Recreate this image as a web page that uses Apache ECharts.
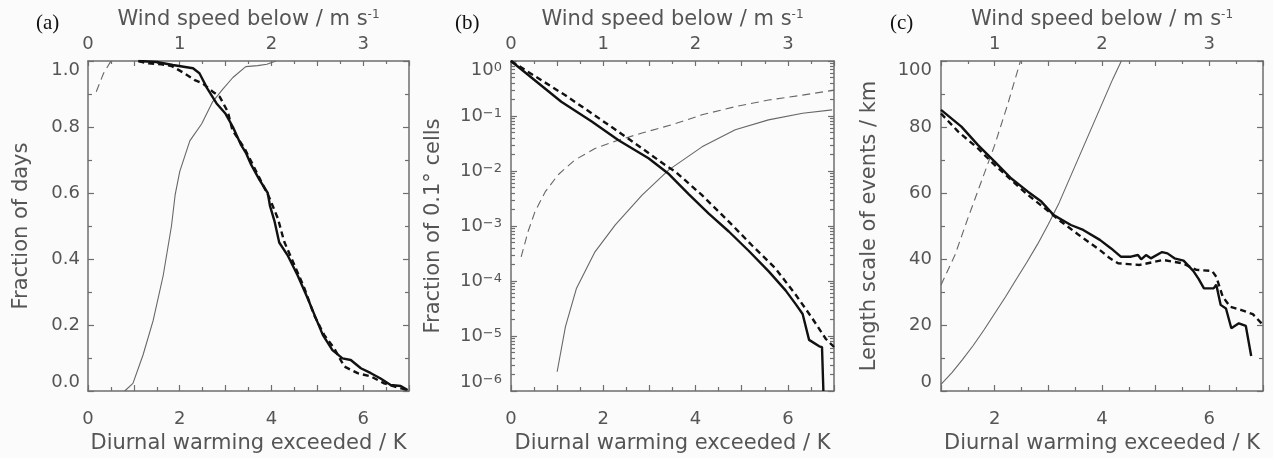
<!DOCTYPE html>
<html>
<head>
<meta charset="utf-8">
<script src="https://cdn.jsdelivr.net/npm/echarts@6/dist/echarts.min.js"></script>
<style>
html,body{margin:0;padding:0;background:#fbfbfb;}
#chart{width:1273px;height:458px;}
</style>
</head>
<body>
<div id="chart"></div>
<script>
// ---------------- Data ----------------
// Panel (a): fraction of days
const aBlackSolidK = [1.10, 1.50, 1.85, 2.29, 2.43, 2.60, 2.80, 3.00, 3.16, 3.34, 3.45, 3.56, 3.74, 3.92, 3.97, 4.07, 4.17, 4.35, 4.57, 4.79, 4.97, 5.12, 5.33, 5.55, 5.73, 5.95, 6.17, 6.38, 6.60, 6.82, 6.97];
const aBlackSolid  = [1.000, 0.997, 0.988, 0.978, 0.963, 0.917, 0.872, 0.840, 0.800, 0.745, 0.720, 0.685, 0.640, 0.600, 0.560, 0.513, 0.450, 0.412, 0.351, 0.281, 0.220, 0.170, 0.124, 0.099, 0.094, 0.069, 0.054, 0.038, 0.018, 0.015, 0.003];
const aBlackDashK  = [1.10, 1.30, 1.60, 1.82, 2.10, 2.33, 2.50, 2.72, 2.87, 3.05, 3.15, 3.41, 3.56, 3.74, 3.96, 4.14, 4.28, 4.50, 4.72, 4.93, 5.15, 5.37, 5.59, 5.88, 6.17, 6.46, 6.75, 6.97];
const aBlackDash   = [1.000, 0.993, 0.990, 0.985, 0.963, 0.942, 0.932, 0.907, 0.892, 0.846, 0.790, 0.736, 0.695, 0.645, 0.584, 0.523, 0.452, 0.382, 0.311, 0.230, 0.170, 0.129, 0.074, 0.054, 0.044, 0.023, 0.011, 0.003];
const aGrayW       = [0.40, 0.49, 0.60, 0.71, 0.82, 0.91, 0.95, 1.00, 1.11, 1.24, 1.36, 1.47, 1.58, 1.72, 1.85, 1.95, 2.05];
const aGray        = [0.000, 0.023, 0.109, 0.213, 0.350, 0.500, 0.594, 0.665, 0.758, 0.810, 0.877, 0.915, 0.950, 0.983, 0.986, 0.990, 1.000];
const aGrayDashW   = [0.09, 0.17, 0.25];
const aGrayDash    = [0.907, 0.963, 1.000];

// Panel (b): fraction of 0.1 degree cells (log scale)
const bBlackSolidK = [0, 1.09, 1.75, 2.33, 2.98, 3.40, 3.85, 4.28, 4.72, 5.15, 5.59, 5.95, 6.17, 6.32, 6.46, 6.68, 6.74, 6.77];
const bBlackSolid  = [1, 0.182, 0.0794, 0.0363, 0.0170, 0.00912, 0.00380, 0.00170, 7.94e-4, 3.55e-4, 1.48e-4, 6.76e-5, 3.80e-5, 2.51e-5, 8.5e-6, 6.5e-6, 6.3e-6, 1e-6];
const bBlackDashK  = [0, 0.30, 1.17, 1.75, 2.54, 3.34, 3.56, 4.14, 4.65, 5.22, 5.73, 6.17, 6.53, 6.82, 7.00];
const bBlackDash   = [1, 0.692, 0.240, 0.112, 0.0389, 0.0129, 0.00977, 0.00363, 0.00138, 4.47e-4, 1.70e-4, 5.62e-5, 2.09e-5, 8.91e-6, 6.31e-6];
const bGrayDashW   = [0.11, 0.185, 0.26, 0.37, 0.51, 0.69, 0.91, 1.16, 1.42, 1.74, 2.07, 2.43, 2.79, 3.16, 3.50];
const bGrayDash    = [2.75e-4, 7.94e-4, 1.82e-3, 4.17e-3, 8.51e-3, 0.0158, 0.0257, 0.0363, 0.0490, 0.0692, 0.105, 0.148, 0.195, 0.240, 0.295];
const bGrayW       = [0.50, 0.59, 0.71, 0.91, 1.13, 1.42, 1.71, 2.07, 2.43, 2.79, 3.16, 3.48];
const bGray        = [2.24e-6, 1.48e-5, 7.41e-5, 3.39e-4, 1.05e-3, 3.63e-3, 0.0105, 0.0275, 0.0562, 0.0851, 0.112, 0.129];

// Panel (c): length scale of events / km
const cBlackSolidK = [1.00, 1.38, 1.69, 2.00, 2.31, 2.62, 2.87, 3.10, 3.42, 3.65, 3.96, 4.17, 4.35, 4.54, 4.67, 4.73, 4.82, 4.91, 5.12, 5.22, 5.35, 5.52, 5.70, 5.80, 5.90, 6.08, 6.13, 6.21, 6.31, 6.41, 6.55, 6.68, 6.78];
const cBlackSolid  = [85.2, 80.1, 74.5, 69.5, 64.4, 60.4, 57.4, 53.3, 50.3, 48.8, 45.8, 43.2, 40.7, 40.7, 41.2, 39.9, 41.2, 40.2, 42.1, 41.7, 40.2, 39.5, 36.4, 34.0, 31.1, 31.1, 32.2, 26.1, 25.0, 19.0, 20.5, 19.7, 10.6];
const cBlackDashK  = [1.00, 1.32, 1.69, 2.00, 2.31, 2.62, 2.93, 3.24, 3.55, 3.96, 4.15, 4.30, 4.70, 5.14, 5.50, 5.76, 6.05, 6.13, 6.25, 6.39, 6.60, 6.81, 7.00];
const cBlackDash   = [84.1, 78.6, 73.5, 68.5, 63.9, 59.4, 55.4, 51.3, 47.5, 42.7, 40.2, 38.7, 38.2, 39.7, 38.7, 36.7, 36.4, 34.6, 28.6, 25.5, 24.5, 23.3, 20.0];
const cGrayW       = [0.50, 0.60, 0.70, 0.80, 0.90, 1.00, 1.10, 1.20, 1.30, 1.40, 1.50, 1.60, 1.70, 1.80, 1.90, 2.00, 2.10, 2.18];
const cGray        = [2.0, 5.5, 9.5, 13.8, 18.5, 23.5, 28.5, 33.8, 39.0, 44.5, 50.5, 57.0, 64.5, 72.0, 79.5, 87.0, 94.5, 100];
const cGrayDashW   = [0.50, 0.63, 0.75, 0.875, 1.00, 1.12, 1.24];
const cGrayDash    = [32.1, 41.2, 52.3, 63.4, 74.5, 86.7, 100];

// Text
const panelLabels = ['(a)', '(b)', '(c)'];
const xTitle = 'Diurnal warming exceeded / K';
const topTitle = 'Wind speed below / m s{sup|-1}';
const yTitles = ['Fraction of days', 'Fraction of 0.1\u00b0 cells', 'Length scale of events / km'];

// ---------------- Styling ----------------
const FONT = 'DejaVu Sans';
const TXT = '#555555';
const FRAME = '#6e6e6e';
const BLACK = '#111111';
const GRAY = '#676767';

function pairs(xs, ys) { return xs.map((x, i) => [x, ys[i]]); }

const lineAxis = { show: true, onZero: false, lineStyle: { color: FRAME, width: 1.5 } };
const tickStyle = { color: FRAME, width: 1.2 };

function bottomAxis(g, min, max) {
  return {
    gridIndex: g, type: 'value', position: 'bottom', min: min, max: max, interval: 1,
    axisLine: lineAxis,
    axisTick: { show: true, inside: true, length: 6, lineStyle: tickStyle },
    minorTick: { show: true, splitNumber: 2, length: 4, lineStyle: tickStyle },
    splitLine: { show: false }, minorSplitLine: { show: false },
    axisLabel: { margin: 19, color: TXT, fontFamily: FONT, fontSize: 18,
      formatter: v => (Math.abs(v % 2) < 1e-9 ? String(v) : '') },
    name: xTitle, nameLocation: 'middle', nameGap: 42,
    nameTextStyle: { color: TXT, fontFamily: FONT, fontSize: 21 }
  };
}
function topAxis(g, min, max) {
  return {
    gridIndex: g, type: 'value', position: 'top', min: min, max: max, interval: 0.5,
    axisLine: lineAxis,
    axisTick: { show: true, inside: true, length: 5, lineStyle: tickStyle },
    minorTick: { show: true, splitNumber: 2, length: 3, lineStyle: tickStyle },
    splitLine: { show: false }, minorSplitLine: { show: false },
    axisLabel: { margin: 8, color: TXT, fontFamily: FONT, fontSize: 18,
      formatter: v => (Number.isInteger(v) ? String(v) : '') },
    name: topTitle, nameLocation: 'middle', nameGap: 21,
    nameTextStyle: { color: TXT, fontFamily: FONT, fontSize: 21,
      rich: { sup: { color: TXT, fontFamily: FONT, fontSize: 12, verticalAlign: 'top' } } }
  };
}
function leftAxis(g, cfg) {
  return Object.assign({
    gridIndex: g, position: 'left',
    axisLine: lineAxis,
    axisTick: { show: true, inside: true, length: 6, lineStyle: tickStyle },
    minorTick: { show: true, splitNumber: 2, length: 4, lineStyle: tickStyle },
    splitLine: { show: false }, minorSplitLine: { show: false },
    nameLocation: 'middle',
    nameTextStyle: { color: TXT, fontFamily: FONT, fontSize: 21 }
  }, cfg);
}
function rightAxis(g, cfg) {
  return Object.assign({
    gridIndex: g, position: 'right',
    axisLine: lineAxis,
    axisTick: { show: true, inside: true, length: 6, lineStyle: tickStyle },
    minorTick: { show: true, splitNumber: 2, length: 4, lineStyle: tickStyle },
    splitLine: { show: false }, minorSplitLine: { show: false },
    axisLabel: { show: false }
  }, cfg);
}

const labelBase = { color: TXT, fontFamily: FONT, fontSize: 18,
  verticalAlignMaxLabel: 'top', verticalAlignMinLabel: 'bottom' };

const logFormatter = v => {
  const e = Math.round(Math.log10(v));
  return '10{sup|' + (e === 0 ? '0' : '\u2212' + (-e)) + '}';
};

const xAxes = [
  bottomAxis(0, 0, 7), topAxis(0, 0, 3.5),
  bottomAxis(1, 0, 7), topAxis(1, 0, 3.5),
  bottomAxis(2, 1, 7), topAxis(2, 0.5, 3.5)
];

const yAxes = [
  leftAxis(0, { type: 'value', min: 0, max: 1, interval: 0.2,
    axisLabel: Object.assign({ margin: 8, formatter: v => v.toFixed(1) }, labelBase),
    name: yTitles[0], nameGap: 56 }),
  rightAxis(0, { type: 'value', min: 0, max: 1, interval: 0.2 }),
  leftAxis(1, { type: 'log', logBase: 10, min: 1e-6, max: 1, interval: 1,
    minorTick: { show: true, splitNumber: 9, length: 4, lineStyle: tickStyle },
    axisLabel: Object.assign({ margin: 9, formatter: logFormatter,
      rich: { sup: { color: TXT, fontFamily: FONT, fontSize: 13, verticalAlign: 'top' } } }, labelBase),
    name: yTitles[1], nameGap: 67 }),
  rightAxis(1, { type: 'log', logBase: 10, min: 1e-6, max: 1, interval: 1,
    minorTick: { show: true, splitNumber: 9, length: 4, lineStyle: tickStyle } }),
  leftAxis(2, { type: 'value', min: 0, max: 100, interval: 20,
    axisLabel: Object.assign({ margin: 9 }, labelBase),
    name: yTitles[2], nameGap: 61 }),
  rightAxis(2, { type: 'value', min: 0, max: 100, interval: 20 })
];

function thick(name, data, xi, yi, dashed) {
  return { name: name, type: 'line', xAxisIndex: xi, yAxisIndex: yi, data: data,
    showSymbol: false, symbol: 'none', z: 5, clip: true,
    lineStyle: { color: BLACK, width: 2.4, type: dashed ? [6, 4] : 'solid' } };
}
function thin(name, data, xi, yi, dashed) {
  return { name: name, type: 'line', xAxisIndex: xi, yAxisIndex: yi, data: data,
    showSymbol: false, symbol: 'none', z: 3, clip: true,
    lineStyle: { color: GRAY, width: 1.1, type: dashed ? [8, 5] : 'solid' } };
}

const series = [
  thick('a-solid', pairs(aBlackSolidK, aBlackSolid), 0, 0, false),
  thick('a-dash', pairs(aBlackDashK, aBlackDash), 0, 0, true),
  thin('a-wind', pairs(aGrayW, aGray), 1, 0, false),
  thin('a-wind-dash', pairs(aGrayDashW, aGrayDash), 1, 0, true),

  thick('b-solid', pairs(bBlackSolidK, bBlackSolid), 2, 2, false),
  thick('b-dash', pairs(bBlackDashK, bBlackDash), 2, 2, true),
  thin('b-wind', pairs(bGrayW, bGray), 3, 2, false),
  thin('b-wind-dash', pairs(bGrayDashW, bGrayDash), 3, 2, true),

  thick('c-solid', pairs(cBlackSolidK, cBlackSolid), 4, 4, false),
  thick('c-dash', pairs(cBlackDashK, cBlackDash), 4, 4, true),
  thin('c-wind', pairs(cGrayW, cGray), 5, 4, false),
  thin('c-wind-dash', pairs(cGrayDashW, cGrayDash), 5, 4, true)
];

const panelX = [36, 455, 890];
const graphic = panelLabels.map((t, i) => ({
  type: 'text', left: panelX[i], top: 13,
  style: { text: t, fontFamily: 'Liberation Serif', fontSize: 21, fill: '#111' }
}));

const option = {
  animation: false,
  backgroundColor: '#fbfbfb',
  grid: [
    { left: 88, top: 61, width: 321, height: 330, outerBoundsMode: 'none' },
    { left: 511, top: 61, width: 323, height: 330, outerBoundsMode: 'none' },
    { left: 941, top: 61, width: 322, height: 330, outerBoundsMode: 'none' }
  ],
  xAxis: xAxes,
  yAxis: yAxes,
  series: series,
  graphic: graphic
};

const chart = echarts.init(document.getElementById('chart'), null, { renderer: 'canvas' });
chart.setOption(option);
</script>
</body>
</html>
